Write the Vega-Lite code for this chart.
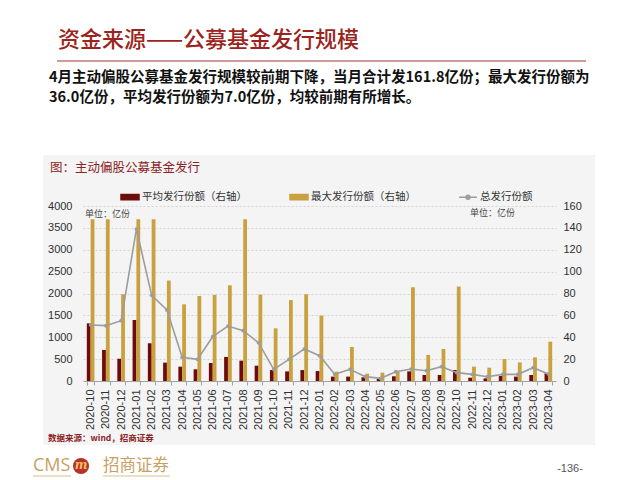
{
  "$schema": "https://vega.github.io/schema/vega-lite/v6.json",
  "autosize": {"type": "none"},
  "width": 473,
  "height": 175,
  "padding": {"left": 83, "right": 84, "top": 206, "bottom": 99},
  "background": "white",
  "config": {"view": {"stroke": null}, "font": "Noto Sans CJK SC"},
  "datasets": {
    "d": [
      {"month": "2020-10", "series": "平均发行份额（右轴）", "value": 52.7},
      {"month": "2020-11", "series": "平均发行份额（右轴）", "value": 28.4},
      {"month": "2020-12", "series": "平均发行份额（右轴）", "value": 20.4},
      {"month": "2021-01", "series": "平均发行份额（右轴）", "value": 55.8},
      {"month": "2021-02", "series": "平均发行份额（右轴）", "value": 34.5},
      {"month": "2021-03", "series": "平均发行份额（右轴）", "value": 16.8},
      {"month": "2021-04", "series": "平均发行份额（右轴）", "value": 13.1},
      {"month": "2021-05", "series": "平均发行份额（右轴）", "value": 10.7},
      {"month": "2021-06", "series": "平均发行份额（右轴）", "value": 16.5},
      {"month": "2021-07", "series": "平均发行份额（右轴）", "value": 22.0},
      {"month": "2021-08", "series": "平均发行份额（右轴）", "value": 18.6},
      {"month": "2021-09", "series": "平均发行份额（右轴）", "value": 14.0},
      {"month": "2021-10", "series": "平均发行份额（右轴）", "value": 10.0},
      {"month": "2021-11", "series": "平均发行份额（右轴）", "value": 8.8},
      {"month": "2021-12", "series": "平均发行份额（右轴）", "value": 10.0},
      {"month": "2022-01", "series": "平均发行份额（右轴）", "value": 9.1},
      {"month": "2022-02", "series": "平均发行份额（右轴）", "value": 4.0},
      {"month": "2022-03", "series": "平均发行份额（右轴）", "value": 4.0},
      {"month": "2022-04", "series": "平均发行份额（右轴）", "value": 3.4},
      {"month": "2022-05", "series": "平均发行份额（右轴）", "value": 1.8},
      {"month": "2022-06", "series": "平均发行份额（右轴）", "value": 4.3},
      {"month": "2022-07", "series": "平均发行份额（右轴）", "value": 8.8},
      {"month": "2022-08", "series": "平均发行份额（右轴）", "value": 5.5},
      {"month": "2022-09", "series": "平均发行份额（右轴）", "value": 5.5},
      {"month": "2022-10", "series": "平均发行份额（右轴）", "value": 10.0},
      {"month": "2022-11", "series": "平均发行份额（右轴）", "value": 3.0},
      {"month": "2022-12", "series": "平均发行份额（右轴）", "value": 2.4},
      {"month": "2023-01", "series": "平均发行份额（右轴）", "value": 4.6},
      {"month": "2023-02", "series": "平均发行份额（右轴）", "value": 4.0},
      {"month": "2023-03", "series": "平均发行份额（右轴）", "value": 5.5},
      {"month": "2023-04", "series": "平均发行份额（右轴）", "value": 7.0},
      {"month": "2020-10", "series": "最大发行份额（右轴）", "value": 148},
      {"month": "2020-11", "series": "最大发行份额（右轴）", "value": 148},
      {"month": "2020-12", "series": "最大发行份额（右轴）", "value": 79.3},
      {"month": "2021-01", "series": "最大发行份额（右轴）", "value": 148},
      {"month": "2021-02", "series": "最大发行份额（右轴）", "value": 148},
      {"month": "2021-03", "series": "最大发行份额（右轴）", "value": 91.8},
      {"month": "2021-04", "series": "最大发行份额（右轴）", "value": 70.1},
      {"month": "2021-05", "series": "最大发行份额（右轴）", "value": 77.7},
      {"month": "2021-06", "series": "最大发行份额（右轴）", "value": 78.7},
      {"month": "2021-07", "series": "最大发行份额（右轴）", "value": 87.5},
      {"month": "2021-08", "series": "最大发行份额（右轴）", "value": 148},
      {"month": "2021-09", "series": "最大发行份额（右轴）", "value": 79.0},
      {"month": "2021-10", "series": "最大发行份额（右轴）", "value": 48.2},
      {"month": "2021-11", "series": "最大发行份额（右轴）", "value": 74.0},
      {"month": "2021-12", "series": "最大发行份额（右轴）", "value": 79.3},
      {"month": "2022-01", "series": "最大发行份额（右轴）", "value": 59.8},
      {"month": "2022-02", "series": "最大发行份额（右轴）", "value": 8.5},
      {"month": "2022-03", "series": "最大发行份额（右轴）", "value": 31.1},
      {"month": "2022-04", "series": "最大发行份额（右轴）", "value": 6.7},
      {"month": "2022-05", "series": "最大发行份额（右轴）", "value": 7.6},
      {"month": "2022-06", "series": "最大发行份额（右轴）", "value": 8.5},
      {"month": "2022-07", "series": "最大发行份额（右轴）", "value": 85.7},
      {"month": "2022-08", "series": "最大发行份额（右轴）", "value": 23.8},
      {"month": "2022-09", "series": "最大发行份额（右轴）", "value": 29.3},
      {"month": "2022-10", "series": "最大发行份额（右轴）", "value": 86.3},
      {"month": "2022-11", "series": "最大发行份额（右轴）", "value": 13.1},
      {"month": "2022-12", "series": "最大发行份额（右轴）", "value": 12.2},
      {"month": "2023-01", "series": "最大发行份额（右轴）", "value": 20.1},
      {"month": "2023-02", "series": "最大发行份额（右轴）", "value": 17.0},
      {"month": "2023-03", "series": "最大发行份额（右轴）", "value": 21.6},
      {"month": "2023-04", "series": "最大发行份额（右轴）", "value": 36.0},
      {"month": "2020-10", "series": "总发行份额", "value": 1280},
      {"month": "2020-11", "series": "总发行份额", "value": 1265},
      {"month": "2020-12", "series": "总发行份额", "value": 1379},
      {"month": "2021-01", "series": "总发行份额", "value": 3474},
      {"month": "2021-02", "series": "总发行份额", "value": 1958},
      {"month": "2021-03", "series": "总发行份额", "value": 1623},
      {"month": "2021-04", "series": "总发行份额", "value": 541},
      {"month": "2021-05", "series": "总发行份额", "value": 495},
      {"month": "2021-06", "series": "总发行份额", "value": 1013},
      {"month": "2021-07", "series": "总发行份额", "value": 1257},
      {"month": "2021-08", "series": "总发行份额", "value": 1150},
      {"month": "2021-09", "series": "总发行份额", "value": 876},
      {"month": "2021-10", "series": "总发行份额", "value": 267},
      {"month": "2021-11", "series": "总发行份额", "value": 495},
      {"month": "2021-12", "series": "总发行份额", "value": 731},
      {"month": "2022-01", "series": "总发行份额", "value": 579},
      {"month": "2022-02", "series": "总发行份额", "value": 152},
      {"month": "2022-03", "series": "总发行份额", "value": 267},
      {"month": "2022-04", "series": "总发行份额", "value": 99},
      {"month": "2022-05", "series": "总发行份额", "value": 61},
      {"month": "2022-06", "series": "总发行份额", "value": 213},
      {"month": "2022-07", "series": "总发行份额", "value": 274},
      {"month": "2022-08", "series": "总发行份额", "value": 236},
      {"month": "2022-09", "series": "总发行份额", "value": 328},
      {"month": "2022-10", "series": "总发行份额", "value": 191},
      {"month": "2022-11", "series": "总发行份额", "value": 152},
      {"month": "2022-12", "series": "总发行份额", "value": 99},
      {"month": "2023-01", "series": "总发行份额", "value": 152},
      {"month": "2023-02", "series": "总发行份额", "value": 152},
      {"month": "2023-03", "series": "总发行份额", "value": 305},
      {"month": "2023-04", "series": "总发行份额", "value": 161.8}
    ]
  },
  "layer": [
    {
      "data": {"values": [{}]},
      "mark": {"type": "rect", "fill": "#000000", "fillOpacity": 0.045},
      "encoding": {"x": {"value": -40}, "x2": {"value": 512}, "y": {"value": -51}, "y2": {"value": 239}}
    },
    {
      "data": {"values": [{}]},
      "mark": {"type": "text", "text": "资金来源——公募基金发行规模", "font": "Noto Sans CJK SC", "fontSize": 22, "fontWeight": 500, "color": "#9a2520", "align": "left", "baseline": "middle"},
      "encoding": {"x": {"value": -25}, "y": {"value": -166}}
    },
    {
      "data": {"values": [{}]},
      "mark": {"type": "rule", "stroke": "#a6362f", "strokeWidth": 1.2},
      "encoding": {"x": {"value": -26}, "x2": {"value": 503}, "y": {"value": -145}}
    },
    {
      "data": {"values": [{}]},
      "mark": {"type": "text", "text": "4月主动偏股公募基金发行规模较前期下降，当月合计发161.8亿份；最大发行份额为", "font": "Noto Sans CJK SC", "fontSize": 14.5, "fontWeight": "bold", "color": "#111111", "align": "left", "baseline": "middle"},
      "encoding": {"x": {"value": -34}, "y": {"value": -128}}
    },
    {
      "data": {"values": [{}]},
      "mark": {"type": "text", "text": "36.0亿份，平均发行份额为7.0亿份，均较前期有所增长。", "font": "Noto Sans CJK SC", "fontSize": 14.5, "fontWeight": "bold", "color": "#111111", "align": "left", "baseline": "middle"},
      "encoding": {"x": {"value": -34}, "y": {"value": -108}}
    },
    {
      "data": {"values": [{}]},
      "mark": {"type": "text", "text": "图：主动偏股公募基金发行", "font": "Noto Sans CJK SC", "fontSize": 12.5, "color": "#8b2323", "align": "left", "baseline": "middle"},
      "encoding": {"x": {"value": -33}, "y": {"value": -38}}
    },
    {
      "data": {"values": [{}]},
      "mark": {"type": "text", "text": "单位：亿份", "font": "Noto Sans CJK SC", "fontSize": 9, "color": "#444444", "align": "left", "baseline": "middle"},
      "encoding": {"x": {"value": 2}, "y": {"value": 8}}
    },
    {
      "data": {"values": [{}]},
      "mark": {"type": "text", "text": "单位：亿份", "font": "Noto Sans CJK SC", "fontSize": 9, "color": "#444444", "align": "left", "baseline": "middle"},
      "encoding": {"x": {"value": 387}, "y": {"value": 7}}
    },
    {
      "data": {"values": [{}]},
      "mark": {"type": "text", "text": "数据来源：wind，招商证券", "font": "Noto Sans CJK SC", "fontSize": 8.5, "fontWeight": "bold", "color": "#8b2323", "align": "left", "baseline": "middle"},
      "encoding": {"x": {"value": -35}, "y": {"value": 232}}
    },
    {
      "data": {"values": [{}]},
      "mark": {"type": "text", "text": "CMS", "font": "Open Sans", "fontSize": 18, "color": "#c9a063", "align": "left", "baseline": "middle"},
      "encoding": {"x": {"value": -50}, "y": {"value": 260}}
    },
    {
      "data": {"values": [{}]},
      "mark": {"type": "point", "shape": "circle", "filled": true, "size": 260, "color": "#b8322a", "opacity": 1},
      "encoding": {"x": {"value": -2}, "y": {"value": 260}}
    },
    {
      "data": {"values": [{}]},
      "mark": {"type": "text", "text": "m", "font": "DejaVu Serif", "fontSize": 12, "fontStyle": "italic", "fontWeight": "bold", "color": "#f0c060", "align": "center", "baseline": "middle"},
      "encoding": {"x": {"value": -2}, "y": {"value": 259}}
    },
    {
      "data": {"values": [{}]},
      "mark": {"type": "text", "text": "招商证券", "font": "Noto Sans CJK SC", "fontSize": 16.5, "color": "#c9a063", "align": "left", "baseline": "middle"},
      "encoding": {"x": {"value": 20}, "y": {"value": 260}}
    },
    {
      "data": {"values": [{}]},
      "mark": {"type": "rule", "stroke": "#d8c08a", "strokeWidth": 1},
      "encoding": {"x": {"value": -50}, "x2": {"value": -12}, "y": {"value": 270}}
    },
    {
      "data": {"values": [{}]},
      "mark": {"type": "rule", "stroke": "#d8c08a", "strokeWidth": 1},
      "encoding": {"x": {"value": 20}, "x2": {"value": 87}, "y": {"value": 270}}
    },
    {
      "data": {"values": [{}]},
      "mark": {"type": "text", "text": "-136-", "font": "Liberation Sans", "fontSize": 11, "color": "#555555", "align": "center", "baseline": "middle"},
      "encoding": {"x": {"value": 487}, "y": {"value": 263}}
    },
    {
      "data": {"name": "d"},
      "transform": [{"filter": "datum.series !== '总发行份额'"}],
      "mark": {"type": "bar"},
      "encoding": {
        "x": {
          "field": "month", "type": "ordinal", "sort": null,
          "scale": {"paddingInner": 0.5, "paddingOuter": 0.25},
          "axis": {"title": null, "labelAngle": -90, "labelFont": "Liberation Sans", "labelFontSize": 11, "labelColor": "#333333", "labelPadding": 4, "domainColor": "#aaaaaa", "tickColor": "#aaaaaa", "tickSize": 4, "tickBand": "extent", "grid": false}
        },
        "xOffset": {"field": "series", "type": "nominal", "sort": ["平均发行份额（右轴）", "最大发行份额（右轴）"], "scale": {"paddingInner": 0, "paddingOuter": 0}},
        "y": {
          "field": "value", "type": "quantitative",
          "scale": {"domain": [0, 160]},
          "axis": {"orient": "right", "title": null, "values": [0, 20, 40, 60, 80, 100, 120, 140, 160], "format": "d", "grid": false, "domain": false, "ticks": false, "labelFont": "Liberation Sans", "labelFontSize": 11, "labelColor": "#333333", "labelPadding": 7}
        },
        "color": {
          "field": "series", "type": "nominal",
          "scale": {"domain": ["平均发行份额（右轴）", "最大发行份额（右轴）", "总发行份额"], "range": ["#6e0b0b", "#c9a13f", "#9d9d9d"]},
          "legend": {
            "orient": "none", "legendX": 37, "legendY": -19, "direction": "horizontal", "columns": 3, "title": null, "gridAlign": "all",
            "labelFont": "Noto Sans CJK SC", "labelFontSize": 10.5, "labelColor": "#333333", "labelOffset": 2, "columnPadding": 40, "labelLimit": 200,
            "symbolSize": 324, "symbolType": "M-1,-0.3H1V0.3H-1Z",
            "encode": {
              "symbols": {
                "update": {
                  "shape": {"signal": "datum.value === '总发行份额' ? 'M-1,0H1M-0.22,0A0.22,0.22,0,1,0,0.22,0A0.22,0.22,0,1,0,-0.22,0' : 'M-1,-0.3H1V0.3H-1Z'"},
                  "fill": {"signal": "scale('color', datum.value)"},
                  "stroke": {"signal": "datum.value === '总发行份额' ? scale('color', datum.value) : 'transparent'"},
                  "strokeWidth": {"value": 1.5},
                  "opacity": {"value": 1},
                  "fillOpacity": {"value": 1}
                }
              }
            }
          }
        }
      }
    },
    {
      "data": {"name": "d"},
      "transform": [{"filter": "datum.series === '总发行份额'"}],
      "mark": {"type": "line", "strokeWidth": 1.6, "point": {"filled": true, "size": 14}},
      "encoding": {
        "x": {
          "field": "month", "type": "ordinal", "sort": null,
          "scale": {"paddingInner": 0.5, "paddingOuter": 0.25},
          "axis": {"title": null, "labelAngle": -90, "labelFont": "Liberation Sans", "labelFontSize": 11, "labelColor": "#333333", "labelPadding": 4, "domainColor": "#aaaaaa", "tickColor": "#aaaaaa", "tickSize": 4, "tickBand": "extent", "grid": false}
        },
        "y": {
          "field": "value", "type": "quantitative",
          "scale": {"domain": [0, 4000]},
          "axis": {"orient": "left", "title": null, "values": [0, 500, 1000, 1500, 2000, 2500, 3000, 3500, 4000], "format": "d", "grid": true, "gridColor": "#d6d6d6", "gridDash": [2, 2], "gridWidth": 0.8, "domain": false, "ticks": false, "labelFont": "Liberation Sans", "labelFontSize": 11, "labelColor": "#333333", "labelPadding": 11}
        },
        "color": {
          "field": "series", "type": "nominal",
          "scale": {"domain": ["平均发行份额（右轴）", "最大发行份额（右轴）", "总发行份额"], "range": ["#6e0b0b", "#c9a13f", "#9d9d9d"]},
          "legend": {
            "orient": "none", "legendX": 37, "legendY": -19, "direction": "horizontal", "columns": 3, "title": null, "gridAlign": "all",
            "labelFont": "Noto Sans CJK SC", "labelFontSize": 10.5, "labelColor": "#333333", "labelOffset": 2, "columnPadding": 40, "labelLimit": 200,
            "symbolSize": 324, "symbolType": "M-1,-0.3H1V0.3H-1Z",
            "encode": {
              "symbols": {
                "update": {
                  "shape": {"signal": "datum.value === '总发行份额' ? 'M-1,0H1M-0.22,0A0.22,0.22,0,1,0,0.22,0A0.22,0.22,0,1,0,-0.22,0' : 'M-1,-0.3H1V0.3H-1Z'"},
                  "fill": {"signal": "scale('color', datum.value)"},
                  "stroke": {"signal": "datum.value === '总发行份额' ? scale('color', datum.value) : 'transparent'"},
                  "strokeWidth": {"value": 1.5},
                  "opacity": {"value": 1},
                  "fillOpacity": {"value": 1}
                }
              }
            }
          }
        }
      }
    }
  ],
  "resolve": {"scale": {"y": "independent"}}
}
